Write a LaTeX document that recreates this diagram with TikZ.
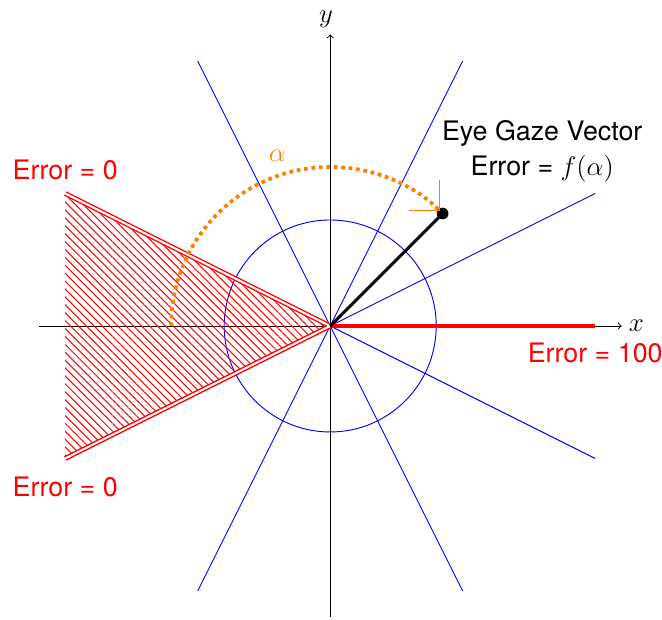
\documentclass[tikz,border=0pt]{standalone}
\usepackage[no-math]{fontspec}
\setmainfont{TeX Gyre Heros}
\usetikzlibrary{patterns,patterns.meta,arrows.meta}
\begin{document}
\begin{tikzpicture}[x=1cm,y=1cm,
  lbl/.style={font=\Large, inner sep=0pt},
  errlbl/.style={lbl, text=red},
  axis/.style={-to, black, line width=0.5pt},
  guide/.style={blue, line width=0.5pt},
  redge/.style={draw=red, double=white, double distance=1.1pt, line width=0.75pt, line join=bevel},
  hatch/.style={pattern={Lines[angle=-45, distance=3pt, line width=0.55pt]}, pattern color=red},
  errline/.style={red, line width=2.3pt},
  gaze/.style={black, line width=1.6pt},
  anglearc/.style={orange, dotted, line width=2pt, shorten >=0.07cm,
    -{Straight Barb[length=4mm, width=8mm, line width=0.6pt 0 0]}}]
\useasboundingbox (-6.23,-5.53) rectangle (6.26,6.15);
% named points
\coordinate (O) at (0,0);
\coordinate (xs) at (-5.5,0);
\coordinate (xe) at (5.5,0);
\coordinate (ys) at (0,-5.5);
\coordinate (ye) at (0,5.5);
\coordinate (tl) at (-5,2.5);
\coordinate (bl) at (-5,-2.5);
\coordinate (gz) at (45:3);
\coordinate (er) at (5,0);
% axes
\draw[axis] (xs) -- (xe);
\draw[axis] (ys) -- (ye);
\node[lbl, anchor=west] (xlab) at (5.63,0) {$x$};
\node[lbl, anchor=south] (ylab) at (-0.08,5.62) {$y$};
% guide lines and circle
\draw[guide] (-2.5,-5) -- (2.5,5);
\draw[guide] (2.5,-5) -- (-2.5,5);
\draw[guide] (-5,-2.5) -- (5,2.5);
\draw[guide] (5,-2.5) -- (-5,2.5);
\draw[guide] (O) circle[radius=2];
% zero-error cone
\fill[hatch] (O) -- (tl) -- (bl) -- cycle;
\draw[redge] (tl) -- (O) -- (bl);
% max-error direction
\draw[errline] (O) -- (er);
% gaze vector
\draw[gaze] (O) -- (gz);
\fill[black] (gz) circle[radius=0.11];
% angle arc
\draw[anglearc] (-3,0) arc[start angle=180, end angle=45, radius=3];
% labels
\node[errlbl] (e0t) at (-5,2.94) {Error = 0};
\node[errlbl] (e0b) at (-5,-3.04) {Error = 0};
\node[errlbl] (e100) at (5,-0.51) {Error = 100};
\node[lbl, align=center] (gzl) at (4.0,3.3) {Eye Gaze Vector\\[1pt]Error = $f(\alpha)$};
\node[lbl, text=orange] (al) at (-1.0,3.22) {$\alpha$};
\end{tikzpicture}
\end{document}
